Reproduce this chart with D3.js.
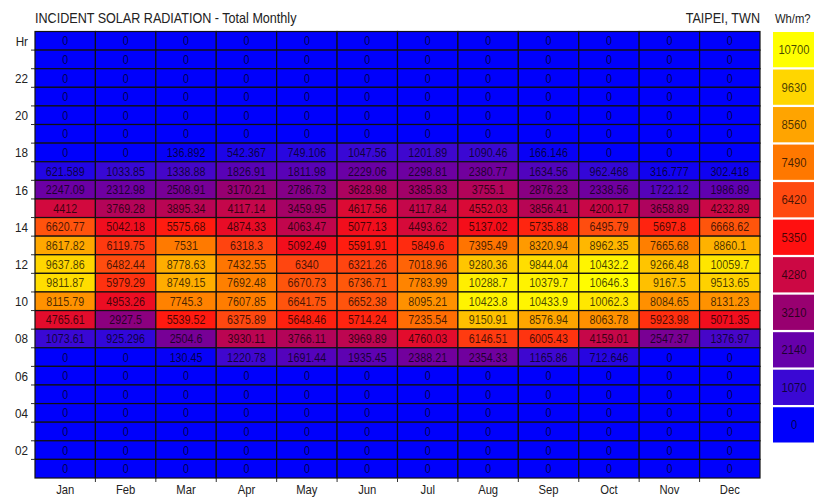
<!DOCTYPE html>
<html>
<head>
<meta charset="utf-8">
<script src="https://cdn.jsdelivr.net/npm/d3@7"></script>
<style>
  body { margin: 0; background: #fff; }
  svg { display: block; }
  text { font-family: "Liberation Sans Narrow", "Arial Narrow", "Liberation Sans", Arial, sans-serif; }
</style>
</head>
<body>
<svg id="chart" width="814" height="497"></svg>
<script>
var months = ["Jan", "Feb", "Mar", "Apr", "May", "Jun", "Jul", "Aug", "Sep", "Oct", "Nov", "Dec"];
// hour 24 at the top, hour 1 at the bottom
var hours = d3.range(24, 0, -1);
var hourLabels = {24: "Hr", 22: "22", 20: "20", 18: "18", 16: "16", 14: "14", 12: "12", 10: "10", 8: "08", 6: "06", 4: "04", 2: "02"};

var zeroRow = [0, 0, 0, 0, 0, 0, 0, 0, 0, 0, 0, 0];
var hour18 = [0, 0, 136.892, 542.367, 749.106, 1047.56, 1201.89, 1090.46, 166.146, 0, 0, 0];
var hour17 = [621.589, 1033.85, 1338.88, 1826.91, 1811.98, 2229.06, 2298.81, 2380.77, 1634.56, 962.468, 316.777, 302.418];
var hour16 = [2247.09, 2312.98, 2508.91, 3170.21, 2786.73, 3628.98, 3385.83, 3755.1, 2876.23, 2338.56, 1722.12, 1986.89];
var hour15 = [4412, 3769.28, 3895.34, 4117.14, 3459.95, 4617.56, 4117.84, 4552.03, 3856.41, 4200.17, 3658.89, 4232.89];
var hour14 = [6620.77, 5042.18, 5575.68, 4874.33, 4063.47, 5077.13, 4493.62, 5137.02, 5735.88, 6495.79, 5697.8, 6668.62];
var hour13 = [8617.82, 6119.75, 7531, 6318.3, 5092.49, 5591.91, 5849.6, 7395.49, 8320.94, 8962.35, 7665.68, 8860.1];
var hour12 = [9637.86, 6482.44, 8778.63, 7432.55, 6340, 6321.26, 7018.96, 9280.36, 9844.04, 10432.2, 9266.48, 10059.7];
var hour11 = [9811.87, 5979.29, 8749.15, 7692.48, 6670.73, 6736.71, 7783.99, 10288.7, 10379.7, 10646.3, 9167.5, 9513.65];
var hour10 = [8115.79, 4953.26, 7745.3, 7607.85, 6641.75, 6652.38, 8095.21, 10423.8, 10433.9, 10062.3, 8084.65, 8131.23];
var hour09 = [4765.61, 2927.5, 5539.52, 6375.89, 5648.46, 5714.24, 7235.54, 9150.91, 8576.94, 8063.78, 5923.98, 5071.35];
var hour08 = [1073.61, 925.296, 2504.6, 3930.11, 3766.11, 3969.89, 4760.03, 6146.51, 6005.43, 4159.01, 2547.37, 1376.97];
var hour07 = [0, 0, 130.45, 1220.78, 1691.44, 1935.45, 2388.21, 2354.33, 1165.86, 712.646, 0, 0];

var rowsByHour = {18: hour18, 17: hour17, 16: hour16, 15: hour15, 14: hour14, 13: hour13,
                  12: hour12, 11: hour11, 10: hour10, 9: hour09, 8: hour08, 7: hour07};

var legendSteps = [10700, 9630, 8560, 7490, 6420, 5350, 4280, 3210, 2140, 1070, 0];
var legendColors = ["#ffff00", "#ffd600", "#ffa400", "#ff7800", "#ff4a10", "#ff1010",
                    "#cc0844", "#980070", "#6600aa", "#3a08d4", "#0000fc"];

var svg = d3.select("#chart");
var plotLeft = 35, plotRight = 760, plotTop = 31.5, plotBottom = 478;

var x = d3.scaleBand().domain(months).range([plotLeft, plotRight]);
var y = d3.scaleBand().domain(hours).range([plotTop, plotBottom]);
var color = d3.scaleLinear()
    .domain(legendSteps.slice().reverse())
    .range(legendColors.slice().reverse())
    .clamp(true);
var fmt = d3.format(".6~g");

var cells = [];
hours.forEach(function (h) {
    var row = rowsByHour[h] || zeroRow;
    months.forEach(function (m, i) {
        cells.push({hour: h, month: m, value: row[i]});
    });
});

// title
svg.append("text")
    .attr("transform", "translate(" + plotLeft + ",23) scale(0.9,1)")
    .style("font-size", "14px")
    .style("fill", "#222")
    .text("INCIDENT SOLAR RADIATION - Total Monthly");

svg.append("text")
    .attr("transform", "translate(" + plotRight + ",23) scale(0.9,1)")
    .attr("text-anchor", "end")
    .style("font-size", "14px")
    .style("fill", "#222")
    .text("TAIPEI, TWN");

// cells
var g = svg.append("g");
g.selectAll("rect")
    .data(cells)
    .join("rect")
    .attr("x", d => x(d.month))
    .attr("y", d => y(d.hour))
    .attr("width", x.bandwidth())
    .attr("height", y.bandwidth())
    .style("fill", d => color(d.value))
    .style("stroke", "#111")
    .style("stroke-width", 1.2);

g.selectAll("text")
    .data(cells)
    .join("text")
    .attr("transform", d => "translate(" + (x(d.month) + x.bandwidth() / 2) + "," +
        (y(d.hour) + y.bandwidth() / 2 + 4.5) + ") scale(0.86,1)")
    .attr("text-anchor", "middle")
    .style("font-size", "12.5px")
    .style("fill", "#000")
    .style("fill-opacity", 0.72)
    .text(d => fmt(d.value));

// left axis: ticks at row boundaries, labels in row centres
var yAxis = svg.append("g");
yAxis.selectAll("line")
    .data(hours.slice(1))
    .join("line")
    .attr("x1", plotLeft - 4)
    .attr("x2", plotLeft)
    .attr("y1", d => y(d))
    .attr("y2", d => y(d))
    .style("stroke", "#333");

yAxis.selectAll("text")
    .data(hours.filter(h => hourLabels[h]))
    .join("text")
    .attr("transform", d => "translate(" + (plotLeft - 7) + "," + (y(d) + y.bandwidth() / 2 + 5) + ") scale(0.9,1)")
    .attr("text-anchor", "end")
    .style("font-size", "13px")
    .style("fill", "#222")
    .text(d => hourLabels[d]);

// bottom axis: ticks at column boundaries, labels in column centres
var xAxis = svg.append("g");
xAxis.selectAll("line")
    .data(months.slice(1))
    .join("line")
    .attr("x1", d => x(d))
    .attr("x2", d => x(d))
    .attr("y1", plotBottom)
    .attr("y2", plotBottom + 4)
    .style("stroke", "#333");

xAxis.selectAll("text")
    .data(months)
    .join("text")
    .attr("transform", d => "translate(" + (x(d) + x.bandwidth() / 2) + ",494) scale(0.9,1)")
    .attr("text-anchor", "middle")
    .style("font-size", "12.5px")
    .style("fill", "#222")
    .text(d => d);

// legend
var legendY = d3.scaleBand().domain(legendSteps).range([32, 442.5]).paddingInner(0.06);
var legend = svg.append("g");
legend.append("text")
    .attr("transform", "translate(775,23) scale(0.9,1)")
    .style("font-size", "12.5px")
    .style("fill", "#222")
    .text("Wh/m?");

legend.selectAll("rect")
    .data(legendSteps)
    .join("rect")
    .attr("x", 773)
    .attr("y", d => legendY(d))
    .attr("width", 45)
    .attr("height", legendY.bandwidth())
    .style("fill", (d, i) => legendColors[i]);

legend.selectAll("text.lbl")
    .data(legendSteps)
    .join("text")
    .attr("class", "lbl")
    .attr("transform", d => "translate(794," + (legendY(d) + legendY.bandwidth() / 2 + 4.5) + ") scale(0.9,1)")
    .attr("text-anchor", "middle")
    .style("font-size", "12.5px")
    .style("fill", "#000")
    .style("fill-opacity", 0.72)
    .text(d => d);
</script>
</body>
</html>
